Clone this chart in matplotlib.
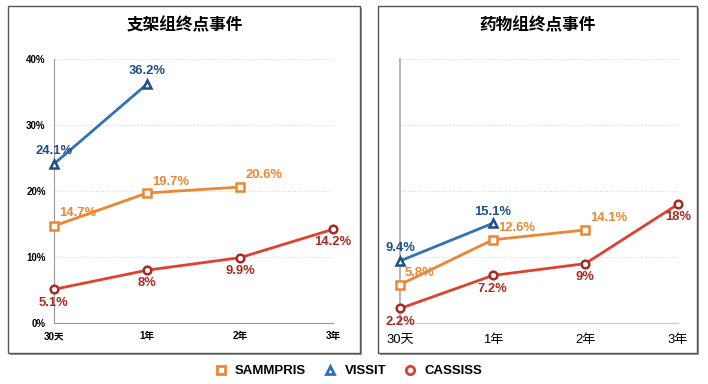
import matplotlib
matplotlib.use("Agg")
import matplotlib.pyplot as plt
from matplotlib.patches import Rectangle
from matplotlib.lines import Line2D

plt.rcParams['font.family'] = ['Liberation Sans', 'Noto Sans CJK SC', 'DejaVu Sans']

# data
periods = ["30天", "1年", "2年", "3年"]
series = ["SAMMPRIS", "VISSIT", "CASSISS"]
stent_sammpris = [14.7, 19.7, 20.6]
stent_vissit = [24.1, 36.2]
stent_cassiss = [5.1, 8.0, 9.9, 14.2]
drug_sammpris = [5.8, 12.6, 14.1]
drug_vissit = [9.4, 15.1]
drug_cassiss = [2.2, 7.2, 9.0, 18.0]
stent_labels = [["14.7%", "19.7%", "20.6%"], ["24.1%", "36.2%"], ["5.1%", "8%", "9.9%", "14.2%"]]
drug_labels = [["5.8%", "12.6%", "14.1%"], ["9.4%", "15.1%"], ["2.2%", "7.2%", "9%", "18%"]]
titles = ["支架组终点事件", "药物组终点事件"]

line_col = {"SAMMPRIS": "#EC8633", "VISSIT": "#2E72B8", "CASSISS": "#E2402E"}
mark_col = {"SAMMPRIS": "#EC8633", "VISSIT": "#1F4E85", "CASSISS": "#A82A22"}
text_col = {"SAMMPRIS": "#EC8633", "VISSIT": "#1F4E85", "CASSISS": "#A82A22"}
markers = {"SAMMPRIS": "s", "VISSIT": "^", "CASSISS": "o"}

# label offsets in points
stent_off = [[(17, 9), (17, 8), (17, 8.5)], [(0, 9.5), (0, 9.5)],
             [(0, -10), (0, -9.5), (0, -9.5), (0, -9.5)]]
drug_off = [[(14, 8.5), (17, 8.5), (17, 8.5)], [(0, 9.5), (0, 8.5)],
            [(0, -10), (0, -9.5), (0, -10), (0, -9.5)]]

W, H = 708, 384
fig = plt.figure(figsize=(W / 100, H / 100), dpi=100)

# panel boxes with shadow
for (x0, x1) in [(8, 360), (378, 697)]:
    y0, y1 = 6, 353
    sh = Rectangle(((x0 + 2) / W, 1 - (y1 + 2) / H), (x1 - x0) / W, (y1 - y0) / H,
                   transform=fig.transFigure, facecolor="#9a9a9a", edgecolor="none", zorder=-2)
    bx = Rectangle((x0 / W, 1 - y1 / H), (x1 - x0) / W, (y1 - y0) / H,
                   transform=fig.transFigure, facecolor="white", edgecolor="#555555",
                   linewidth=1.0, zorder=-1)
    fig.patches.extend([sh, bx])

ax1 = fig.add_axes([54 / W, 1 - 323 / H, (333 - 54) / W, (323 - 59) / H])
ax2 = fig.add_axes([400 / W, 1 - 323 / H, (678 - 400) / W, (323 - 59) / H])

panels = [
    (ax1, [stent_sammpris, stent_vissit, stent_cassiss], stent_labels, stent_off),
    (ax2, [drug_sammpris, drug_vissit, drug_cassiss], drug_labels, drug_off),
]

for i, (ax, vals, labs, offs) in enumerate(panels):
    ax.set_facecolor("none")
    ax.set_xlim(0, 3)
    ax.set_ylim(0, 40)
    ax.set_yticks([0, 10, 20, 30, 40])
    ax.grid(axis="y", linestyle=(0, (1, 1.5)), color="#d8d8d8", linewidth=0.7)
    ax.set_axisbelow(True)
    for s in ["top", "right"]:
        ax.spines[s].set_visible(False)
    ax.tick_params(length=0)
    ax.set_xticks(range(len(periods)))
    for j, name in enumerate(series):
        v = vals[j]
        xs = list(range(len(v)))
        ax.plot(xs, v, color=line_col[name], linewidth=2, marker=markers[name],
                markersize=6 if name != "CASSISS" else 5.5, markerfacecolor="white",
                markeredgecolor=mark_col[name], markeredgewidth=1.8, zorder=3, clip_on=False)
        for k, (x, y) in enumerate(zip(xs, v)):
            ax.annotate(labs[j][k], (x, y), xytext=offs[j][k], textcoords="offset points",
                        ha="center", va="center", fontsize=9.4, fontweight="bold",
                        color=text_col[name], zorder=4)
    if i == 0:
        ax.set_yticklabels(["0%", "10%", "20%", "30%", "40%"], fontsize=7, fontweight="bold")
        ax.set_xticklabels(periods, fontsize=7, fontweight="bold")
        ax.tick_params(axis="y", pad=6)
        ax.tick_params(axis="x", pad=6)
        ax.spines["left"].set_color("#999999")
        ax.spines["bottom"].set_color("#999999")
    else:
        ax.set_yticklabels([])
        ax.set_xticklabels(periods, fontsize=9.4)
        ax.tick_params(axis="x", pad=8)
        ax.spines["left"].set_color("#b5b5b5")
        ax.spines["left"].set_linewidth(1.4)
        ax.spines["bottom"].set_color("#c8c8c8")

fig.text(185 / W, 1 - 25 / H, titles[0], ha="center", va="center", fontsize=12, fontweight="bold")
fig.text(538 / W, 1 - 25 / H, titles[1], ha="center", va="center", fontsize=12, fontweight="bold")

handles = [Line2D([], [], linestyle="none", marker=markers[n], markersize=6,
                  markerfacecolor="white", markeredgecolor=line_col[n] if n != "VISSIT" else "#2E72B8",
                  markeredgewidth=2) for n in series]
leg = fig.legend(handles, series, loc="center", bbox_to_anchor=(348 / W, 1 - 371 / H), ncol=3,
                 frameon=False, prop={"weight": "bold", "size": 9.5}, handlelength=1,
                 handletextpad=0.6, columnspacing=1.3)

fig.savefig("out.png", dpi=100)
